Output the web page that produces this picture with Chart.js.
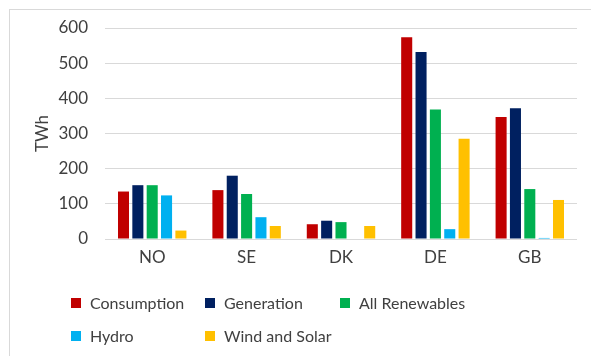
<!DOCTYPE html>
<html>
<head>
<meta charset="utf-8">
<script src="https://cdn.jsdelivr.net/npm/chart.js@4"></script>
<style>
  html, body { margin: 0; padding: 0; background: #fff; }
  #wrap { position: relative; width: 591px; height: 356px; overflow: hidden; }
  #frame { position: absolute; left: 9px; top: 9px; width: 600px; height: 400px;
           border-left: 1px solid #d9d9d9; border-top: 1px solid #d9d9d9; }
  canvas { position: absolute; left: 0; top: 0; }
  #legend { position: absolute; left: 0; top: 0; font-family: Lato, sans-serif;
            font-size: 16px; color: #404040; }
  .item { position: absolute; white-space: nowrap; line-height: 20px; }
  .box { position: absolute; left: 0; top: 5px; width: 10px; height: 10px; }
  .lbl { position: absolute; left: 19px; top: 0; }
</style>
</head>
<body>
<div id="wrap">
  <div id="frame"></div>
  <canvas id="chart" width="591" height="356"></canvas>
  <div id="legend"></div>
</div>
<script>
// Country groups
const countries = ['NO', 'SE', 'DK', 'DE', 'GB']

// TWh per series
const consumption   = [135, 139, 42, 574, 347]
const generation    = [153, 180, 52, 532, 372]
const allRenewables = [153, 128, 48, 368, 142]
const hydro         = [124, 62, 0, 28, 3]
const windAndSolar  = [24, 37, 37, 285, 111]

const yTicks = [0, 100, 200, 300, 400, 500, 600]

const SERIES = [
  { label: 'Consumption', data: consumption, color: '#C00000' },
  { label: 'Generation', data: generation, color: '#002060' },
  { label: 'All Renewables', data: allRenewables, color: '#00B050' },
  { label: 'Hydro', data: hydro, color: '#00B0F0' },
  { label: 'Wind and Solar', data: windAndSolar, color: '#FFC000' },
]

const TEXT = '#404040'
Chart.defaults.font.family = 'Lato, sans-serif'
Chart.defaults.color = TEXT

new Chart(document.getElementById('chart'), {
  type: 'bar',
  data: {
    labels: countries,
    datasets: SERIES.map(s => ({
      label: s.label,
      data: s.data,
      backgroundColor: s.color,
      barPercentage: 0.77,
      categoryPercentage: 0.76,
    })),
  },
  options: {
    responsive: false,
    animation: false,
    layout: { padding: { top: 28, left: 9, right: 14, bottom: 87 } },
    plugins: {
      legend: { display: false },
      tooltip: { enabled: false },
    },
    scales: {
      x: {
        grid: { display: false, drawTicks: false },
        border: { display: false },
        ticks: { font: { size: 17 }, padding: 8 },
        afterFit: (s) => { s.height = 30 },
      },
      y: {
        min: 0,
        max: 600,
        afterBuildTicks: (s) => { s.ticks = yTicks.map(v => ({ value: v })) },
        grid: { color: '#d9d9d9', lineWidth: 1, drawTicks: false },
        border: { display: false },
        ticks: { font: { size: 17 }, padding: 17 },
        title: { display: true, text: 'TWh', font: { size: 17 }, padding: { top: 23, bottom: 0 } },
        afterFit: (s) => { s.width = 96 },
      },
    },
  },
})

// legend laid out in a fixed grid like the original
const legendPos = [[71, 293], [205, 293], [340, 293], [71, 326], [205, 326]]
const legend = document.getElementById('legend')
SERIES.forEach((s, i) => {
  const el = document.createElement('div')
  el.className = 'item'
  el.style.left = legendPos[i][0] + 'px'
  el.style.top = legendPos[i][1] + 'px'
  el.innerHTML = '<span class="box" style="background:' + s.color + '"></span><span class="lbl">' + s.label + '</span>'
  legend.appendChild(el)
})
</script>
</body>
</html>
